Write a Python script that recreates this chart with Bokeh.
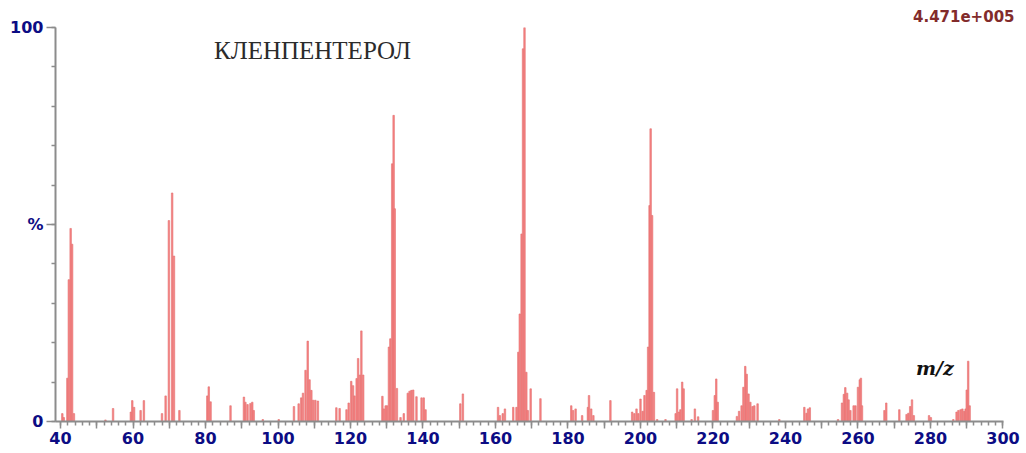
from bokeh.plotting import figure
from bokeh.models import FixedTicker, Label, Range1d, ColumnDataSource
from bokeh.embed import file_html
from bokeh.resources import INLINE

# Mass spectrum of clenpenterol: m/z positions and relative intensity (%)
mz = [
    40.5, 40.9, 41.9, 42.3, 42.8, 43.2, 43.7,
    52.4, 54.5, 59.4, 59.8, 60.3, 62.1, 63.0,
    68.0, 69.0, 69.9, 70.8, 71.3, 72.8,
    80.5, 80.9, 81.4, 86.9,
    90.6, 91.0, 91.6, 92.4, 92.9, 93.3, 95.8, 100.2,
    104.4, 105.7, 106.4, 106.9, 107.6, 108.2, 108.7, 109.2, 109.7, 110.3, 111.0,
    116.1, 117.0, 118.9, 119.5, 120.2, 120.7, 121.1, 121.7, 122.1, 122.6, 123.0, 123.5,
    128.8, 129.2, 129.7, 130.1, 130.6, 131.0, 131.5, 131.9, 132.2, 132.8,
    133.8, 134.7, 135.8, 136.3, 136.8, 137.3, 138.2, 139.6, 140.2, 140.7,
    150.3, 151.0,
    160.7, 161.2, 162.0, 162.6, 164.9, 165.8, 166.3, 166.7, 167.2, 167.6, 168.0,
    168.5, 168.9, 169.7, 172.4,
    180.9, 181.4, 182.1, 183.9, 185.5, 185.8, 186.4, 187.0, 191.7,
    197.7, 198.3, 198.9, 199.4, 200.0, 200.6, 201.1, 201.7, 202.1, 202.5, 202.8,
    203.2, 203.7, 204.6, 206.9,
    209.7, 210.1, 210.6, 211.0, 211.5, 211.9, 214.1, 215.0, 215.9,
    220.0, 220.5, 220.9, 221.3,
    226.6, 227.2, 227.9, 228.4, 228.9, 229.3, 229.8, 230.3, 230.9, 231.4, 232.3,
    238.3, 245.2, 245.8, 246.2, 246.7,
    254.5, 255.6, 256.1, 256.5, 257.0, 257.4, 257.9, 258.8, 259.3, 260.0, 260.5, 260.8, 261.1,
    267.3, 267.8, 271.4, 273.4, 273.9, 274.4, 274.9, 275.4, 279.6, 280.1,
    286.3, 287.2, 287.7, 288.3, 288.8, 289.3, 289.7, 290.0, 290.4, 290.8,
]
intensity = [
    2.0, 1.0, 11.0, 36.0, 49.0, 45.0, 2.0,
    0.4, 3.3, 2.4, 5.3, 3.6, 2.8, 5.3,
    2.0, 6.5, 51.0, 58.0, 42.0, 2.8,
    6.5, 8.8, 5.0, 4.0,
    6.2, 4.9, 4.3, 4.6, 4.9, 2.8, 0.5, 0.5,
    3.8, 4.5, 6.0, 7.2, 13.0, 20.4, 10.6, 7.9, 5.4, 5.4, 5.2,
    3.5, 3.3, 3.0, 4.7, 10.2, 9.1, 6.5, 10.9, 16.0, 11.8, 23.0, 11.8,
    6.4, 3.2, 4.0, 4.0, 18.9, 21.0, 65.4, 77.7, 54.0, 8.4,
    1.0, 2.0, 7.2, 7.7, 7.9, 8.0, 6.3, 6.0, 6.0, 3.0,
    4.5, 7.0,
    3.6, 1.5, 2.0, 3.2, 3.6, 3.6, 17.6, 27.3, 47.6, 94.6, 100.0,
    12.5, 2.8, 8.3, 5.8,
    4.0, 2.8, 3.2, 1.5, 3.6, 6.6, 3.2, 1.5, 5.3,
    2.4, 2.0, 3.2, 2.0, 5.7, 2.6, 6.6, 7.9, 18.9, 54.8, 74.3,
    52.3, 7.4, 0.5, 0.5,
    2.0, 8.3, 2.4, 3.0, 10.0, 8.3, 0.5, 3.2, 1.2,
    2.8, 6.6, 10.8, 4.9,
    1.3, 2.6, 4.0, 8.7, 14.0, 12.0, 7.0, 4.9, 3.8, 4.0, 4.5,
    0.5, 3.6, 2.1, 3.2, 3.5,
    0.5, 4.7, 6.9, 8.6, 7.2, 5.5, 2.8, 4.0, 4.0, 8.7, 10.6, 11.0, 4.0,
    2.8, 4.7, 3.0, 1.8, 2.1, 3.8, 5.5, 1.5, 1.5, 1.0,
    0.5, 2.4, 2.8, 3.0, 3.2, 2.6, 3.2, 8.0, 15.3, 4.0,
]

x_major_ticks = list(range(40, 301, 10))
x_minor_ticks = list(range(40, 301, 2))
x_tick_labels = {t: (str(t) if t % 20 == 0 else "") for t in x_major_ticks}
y_major_ticks = [0, 50, 100]
y_minor_ticks = list(range(0, 101, 10))
y_tick_labels = {0: "0", 50: "%", 100: "100"}

compound_name = "КЛЕНПЕНТЕРОЛ"
base_peak_abundance = "4.471e+005"
x_title = "m/z"

source = ColumnDataSource(data=dict(mz=mz, intensity=intensity))

p = figure(
    width=1026, height=453,
    x_range=Range1d(38.62, 300.14), y_range=Range1d(0, 100),
    output_backend="svg", toolbar_location=None,
    min_border_left=55, min_border_right=23,
    min_border_top=27, min_border_bottom=32,
)
p.outline_line_color = None
p.grid.visible = False
p.background_fill_color = "white"
p.border_fill_color = "white"

# absolute abundance of the base peak, top right above the frame
p.title.text = base_peak_abundance
p.title.align = "right"
p.title.offset = -11
p.title.standoff = 12
p.title.text_font = "DejaVu Sans"
p.title.text_font_style = "bold"
p.title.text_font_size = "15px"
p.title.text_color = "#822b2b"

p.vbar(x="mz", top="intensity", bottom=0, width=0.42, source=source,
       fill_color="#f88282", line_color="#e27070", line_width=0.6)

axis_gray = "#8c8c8c"
label_navy = "#0c0c84"

xa = p.xaxis[0]
xa.ticker = FixedTicker(ticks=x_major_ticks, minor_ticks=x_minor_ticks)
xa.major_label_overrides = x_tick_labels
ya = p.yaxis[0]
ya.ticker = FixedTicker(ticks=y_major_ticks, minor_ticks=y_minor_ticks)
ya.major_label_overrides = y_tick_labels

for ax in (xa, ya):
    ax.axis_line_color = axis_gray
    ax.axis_line_width = 2
    ax.major_tick_line_color = axis_gray
    ax.minor_tick_line_color = axis_gray
    ax.major_tick_line_width = 1.5
    ax.minor_tick_line_width = 1.5
    ax.major_tick_in = 0
    ax.minor_tick_in = 0
    ax.major_label_text_font = "DejaVu Sans"
    ax.major_label_text_font_style = "bold"
    ax.major_label_text_font_size = "16px"
    ax.major_label_text_color = label_navy

xa.major_tick_out = 7
xa.minor_tick_out = 4
xa.major_label_standoff = 3
ya.major_tick_out = 9
ya.minor_tick_out = 4
ya.major_label_standoff = 3

p.add_layout(Label(x=109.5, y=94.2, text=compound_name,
                   text_font="Liberation Serif", text_font_size="25px",
                   text_align="center", text_baseline="middle",
                   text_color="#2b2b2b"))
p.add_layout(Label(x=276.0, y=13.5, text=x_title,
                   text_font="DejaVu Serif", text_font_style="bold italic",
                   text_font_size="19px", text_align="left",
                   text_baseline="middle", text_color="#111111"))

open("out.html", "w").write(file_html(p, INLINE))
